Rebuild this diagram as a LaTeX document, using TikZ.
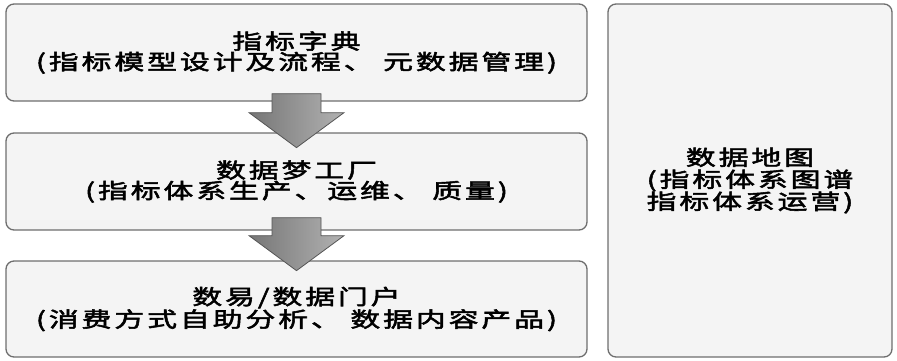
\documentclass[tikz,border=0pt]{standalone}
\usepackage{fontspec}
\usetikzlibrary{calc}
\setmainfont{Noto Sans CJK SC}[FakeStretch=1.42,LetterSpace=14,FakeBold=2.5]
\begin{document}
\begin{tikzpicture}[x=1pt,y=-1pt,
  box/.style={draw={rgb,255:red,110;green,110;blue,110},line width=1.3pt,
    fill={rgb,255:red,244;green,244;blue,244},rounded corners=8pt,
    inner sep=0pt,align=center,font=\fontsize{21}{20.5}\selectfont},
  blockarrow/.style={draw={rgb,255:red,85;green,85;blue,85},line width=0.8pt,
    left color={rgb,255:red,118;green,118;blue,118},
    right color={rgb,255:red,178;green,178;blue,178}}]
\useasboundingbox (0,0) rectangle (897,360);
\node[box,minimum width=581pt,minimum height=97pt] (b1) at (296.5,52.5)
  {指标字典\\(指标模型设计及流程、 元数据管理)};
\node[box,minimum width=581pt,minimum height=97pt] (b2) at (296.5,181.5)
  {数据梦工厂\\(指标体系生产、运维、 质量)};
\node[box,minimum width=581pt,minimum height=96pt] (b3) at (296.5,309)
  {数易/数据门户\\(消费方式自助分析、 数据内容产品)};
\node[box,minimum width=284pt,minimum height=353pt,font=\fontsize{21}{22}\selectfont] (r) at (750,180.5)
  {数据地图\\(指标体系图谱\\指标体系运营)};
\draw[blockarrow] ($(b1.south)+(-24.5,-8)$) -- ($(b1.south)+(24.5,-8)$)
  -- ($(b1.south)+(24.5,11)$) -- ($(b1.south)+(47.5,11)$)
  -- ($(b1.south)+(0,46)$) -- ($(b1.south)+(-47.5,11)$)
  -- ($(b1.south)+(-24.5,11)$) -- cycle;
\draw[blockarrow] ($(b2.south)+(-24.5,-13)$) -- ($(b2.south)+(24.5,-13)$)
  -- ($(b2.south)+(24.5,5)$) -- ($(b2.south)+(47.5,5)$)
  -- ($(b2.south)+(0,40)$) -- ($(b2.south)+(-47.5,5)$)
  -- ($(b2.south)+(-24.5,5)$) -- cycle;
\end{tikzpicture}
\end{document}
